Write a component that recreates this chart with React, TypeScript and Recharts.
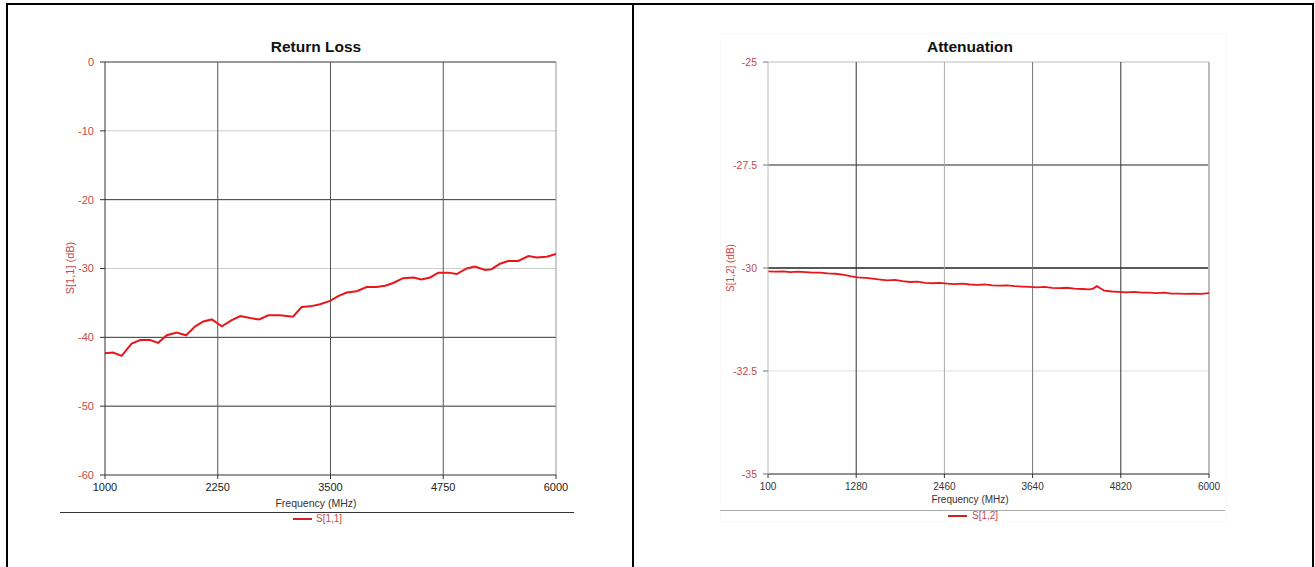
import React from 'react';
import { LineChart, Line, XAxis, YAxis, ReferenceLine } from 'recharts';

// Return loss S[1,1]
const s11Freq = [
  1000, 1090, 1185, 1295, 1390, 1500, 1590, 1685, 1795, 1900, 2000, 2090, 2185, 2295, 2405,
  2500, 2610, 2710, 2810, 2940, 3085, 3180, 3275, 3385, 3495, 3585, 3680, 3790, 3900, 4010,
  4105, 4195, 4305, 4420, 4510, 4605, 4695, 4805, 4900, 5010, 5100, 5215, 5285, 5380, 5470,
  5580, 5695, 5785, 5895, 6000,
];
const s11Db = [
  -42.3, -42.2, -42.7, -40.9, -40.4, -40.4, -40.8, -39.7, -39.3, -39.7, -38.4, -37.7, -37.4, -38.4, -37.5,
  -36.9, -37.2, -37.4, -36.8, -36.8, -37.0, -35.6, -35.5, -35.2, -34.7, -34.0, -33.5, -33.3, -32.7, -32.7,
  -32.5, -32.1, -31.4, -31.3, -31.6, -31.3, -30.6, -30.6, -30.8, -30.0, -29.7, -30.2, -30.1, -29.3, -28.9,
  -28.9, -28.2, -28.4, -28.3, -27.9,
];

// Attenuation S[1,2]
const s12Freq = [
  100, 200, 300, 400, 500, 600, 700, 800, 900, 1000, 1100, 1200, 1300, 1400, 1500, 1600, 1700, 1800,
  1900, 2000, 2100, 2200, 2300, 2400, 2500, 2600, 2700, 2800, 2900, 3000, 3100, 3200, 3300, 3400,
  3500, 3600, 3700, 3800, 3900, 4000, 4100, 4200, 4300, 4400, 4450, 4500, 4550, 4600, 4700, 4800,
  4900, 5000, 5100, 5200, 5300, 5400, 5500, 5600, 5700, 5800, 5900, 6000,
];
const s12Db = [
  -30.08, -30.09, -30.08, -30.1, -30.09, -30.1, -30.11, -30.11, -30.13, -30.14, -30.16, -30.2, -30.23, -30.24, -30.26, -30.28, -30.3, -30.29,
  -30.32, -30.34, -30.33, -30.36, -30.37, -30.36, -30.38, -30.39, -30.38, -30.4, -30.41, -30.4, -30.42, -30.43, -30.42, -30.44,
  -30.45, -30.46, -30.47, -30.46, -30.48, -30.49, -30.48, -30.5, -30.51, -30.52, -30.5, -30.44, -30.5, -30.55, -30.57, -30.58,
  -30.59, -30.58, -30.6, -30.6, -30.61, -30.6, -30.62, -30.62, -30.63, -30.62, -30.63, -30.61,
];

const s11XTicks = [1000, 2250, 3500, 4750, 6000];
const s11YTicks = [-60, -50, -40, -30, -20, -10, 0];
const s11YDark = [0, -20, -40, -50];

const s12XTicks = [100, 1280, 2460, 3640, 4820, 6000];
const s12YTicks = [-35, -32.5, -30, -27.5, -25];

const s11Data = s11Freq.map((f, i) => ({ f, v: s11Db[i] }));
const s12Data = s12Freq.map((f, i) => ({ f, v: s12Db[i] }));

const FONT = '"Liberation Sans", Arial, sans-serif';
const RED = '#e8161b';
const TICK_RED = '#c24a4a';

const abs = (x: number, y: number): React.CSSProperties => ({ position: 'absolute', left: x, top: y });

function Title({ text, cx, y }: { text: string; cx: number; y: number }) {
  return (
    <div style={{ ...abs(cx - 100, y), width: 200, textAlign: 'center', fontWeight: 700, fontSize: 15.5, color: '#111' }}>
      {text}
    </div>
  );
}

function YLabel({ text, cx, cy, size }: { text: string; cx: number; cy: number; size: number }) {
  return (
    <div
      style={{
        ...abs(cx - 60, cy - 8),
        width: 120,
        height: 16,
        lineHeight: '16px',
        textAlign: 'center',
        fontSize: size,
        color: TICK_RED,
        transform: 'rotate(-90deg)',
      }}
    >
      {text}
    </div>
  );
}

export default function App() {
  const s12V = (v: number) => {
    if (v === -27.5 || v === -30) return '#222';
    if (v === -25) return '#bbb';
    return '#ddd';
  };
  const s12H = (f: number) => {
    if (f === 1280 || f === 4820) return '#333';
    if (f === 3640) return '#777';
    if (f === 2460) return '#aaa';
    return '#bbb';
  };

  return (
    <div style={{ position: 'absolute', left: 0, top: 0, width: 1315, height: 567, background: '#fff', fontFamily: FONT, overflow: 'hidden' }}>
      {/* table frame */}
      <div style={{ ...abs(6, 3), width: 1308, height: 2, background: '#000' }} />
      <div style={{ ...abs(6, 3), width: 2, height: 570, background: '#000' }} />
      <div style={{ ...abs(632, 3), width: 2, height: 570, background: '#000' }} />
      <div style={{ ...abs(1312, 3), width: 2, height: 570, background: '#000' }} />

      {/* Return Loss */}
      <Title text="Return Loss" cx={316} y={38} />
      <YLabel text="S[1,1] (dB)" cx={70} cy={268} size={11} />
      <div style={{ ...abs(0, 0) }}>
        <LineChart width={634} height={567} data={s11Data} margin={{ top: 62, right: 78, bottom: 62, left: 60 }}>
          <XAxis
            dataKey="f"
            type="number"
            domain={[1000, 6000]}
            ticks={s11XTicks}
            interval={0}
            height={30}
            tickSize={4}
            tickMargin={4}
            axisLine={{ stroke: '#333' }}
            tickLine={{ stroke: '#333' }}
            tick={{ fontSize: 11, fill: '#222', fontFamily: FONT }}
          />
          <YAxis
            type="number"
            domain={[-60, 0]}
            ticks={s11YTicks}
            interval={0}
            width={45}
            tickSize={5}
            tickMargin={6}
            axisLine={{ stroke: '#333' }}
            tickLine={{ stroke: '#333' }}
            tick={{ fontSize: 11, fill: TICK_RED, fontFamily: FONT }}
          />
          {s11YTicks.filter((t) => t > -60).map((t) => (
            <ReferenceLine key={'y' + t} y={t} stroke={s11YDark.includes(t) ? '#333' : '#ccc'} strokeWidth={1} />
          ))}
          {s11XTicks.filter((t) => t > 1000).map((t) => (
            <ReferenceLine key={'x' + t} x={t} stroke={t === 6000 ? '#999' : '#555'} strokeWidth={1} />
          ))}
          <Line type="linear" dataKey="v" stroke={RED} strokeWidth={2} dot={false} isAnimationActive={false} />
        </LineChart>
      </div>
      <div style={{ ...abs(160, 497), width: 312, textAlign: 'center', fontSize: 10.5, color: '#333' }}>Frequency (MHz)</div>
      <div style={{ ...abs(60, 512), width: 514, height: 1, background: '#333' }} />
      <div style={{ ...abs(293, 518), width: 19, height: 2, background: '#d02020' }} />
      <div style={{ ...abs(316, 513), fontSize: 10, color: TICK_RED }}>S[1,1]</div>

      {/* Attenuation */}
      <div style={{ ...abs(720, 33), width: 505, height: 487, border: '1px solid #f9f9f9' }} />
      <Title text="Attenuation" cx={970} y={38} />
      <YLabel text="S[1,2] (dB)" cx={731} cy={268} size={10} />
      <div style={{ ...abs(634, 0) }}>
        <LineChart width={681} height={567} data={s12Data} margin={{ top: 62, right: 106, bottom: 63, left: 89 }}>
          <XAxis
            dataKey="f"
            type="number"
            domain={[100, 6000]}
            ticks={s12XTicks}
            interval={0}
            height={30}
            tickSize={4}
            tickMargin={5}
            axisLine={{ stroke: '#222' }}
            tickLine={{ stroke: '#333' }}
            tick={{ fontSize: 10, fill: '#333', fontFamily: FONT }}
          />
          <YAxis
            type="number"
            domain={[-35, -25]}
            ticks={s12YTicks}
            interval={0}
            width={45}
            tickSize={5}
            tickMargin={6}
            axisLine={{ stroke: '#bbb' }}
            tickLine={{ stroke: '#777' }}
            tick={{ fontSize: 10.5, fill: TICK_RED, fontFamily: FONT }}
          />
          {s12YTicks.filter((t) => t > -35).map((t) => (
            <ReferenceLine key={'y' + t} y={t} stroke={s12V(t)} strokeWidth={t === -30 ? 1.3 : 1} />
          ))}
          {s12XTicks.filter((t) => t > 100).map((t) => (
            <ReferenceLine key={'x' + t} x={t} stroke={s12H(t)} strokeWidth={t === 6000 ? 2 : 1} />
          ))}
          <Line type="linear" dataKey="v" stroke={RED} strokeWidth={1.8} dot={false} isAnimationActive={false} />
        </LineChart>
      </div>
      <div style={{ ...abs(814, 494), width: 312, textAlign: 'center', fontSize: 10, color: '#333' }}>Frequency (MHz)</div>
      <div style={{ ...abs(720, 510), width: 505, height: 1, background: '#aaa' }} />
      <div style={{ ...abs(948, 515), width: 19, height: 2, background: '#d02020' }} />
      <div style={{ ...abs(972, 510), fontSize: 10, color: TICK_RED }}>S[1,2]</div>
    </div>
  );
}
